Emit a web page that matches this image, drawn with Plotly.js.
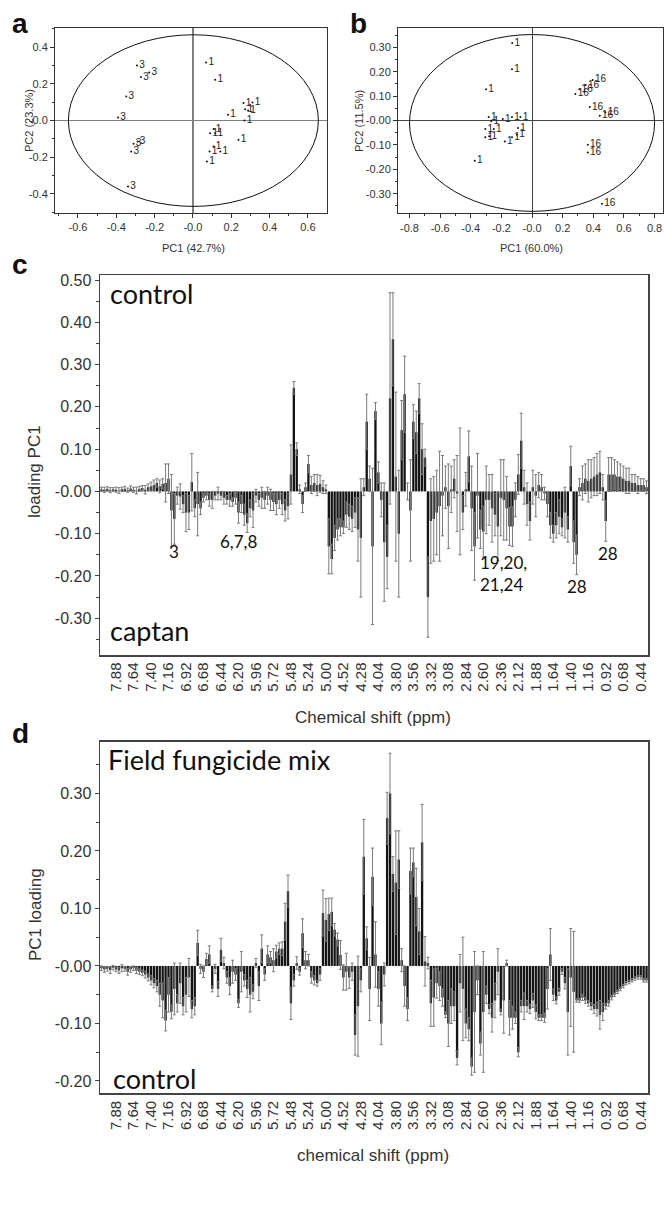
<!DOCTYPE html>
<html><head><meta charset="utf-8">
<script src="https://cdn.plot.ly/plotly-3.0.1.min.js"></script>
<style>body{margin:0;background:#fff}#chart{width:664px;height:1207px}</style>
</head><body><div id="chart"></div>
<script>
const W = 664, H = 1207;

// ---------- Panel a: PCA scores (control "1" vs captan "3") ----------
const aCaptanX = [-0.292,-0.271,-0.228,-0.348,-0.391,-0.310,-0.289,-0.322,-0.339];
const aCaptanY = [0.300,0.237,0.262,0.131,0.016,-0.127,-0.115,-0.169,-0.360];
const aCtrlX = [0.069,0.116,0.264,0.311,0.273,0.288,0.183,0.269,0.108,0.090,0.116,0.238,0.108,0.087,0.143,0.073];
const aCtrlY = [0.316,0.222,0.095,0.098,0.062,0.055,0.031,0.000,-0.047,-0.069,-0.069,-0.105,-0.142,-0.169,-0.169,-0.224];

// ---------- Panel b: PCA scores (control "1" vs field mix "16") ----------
const bCtrlX = [-0.129,-0.131,-0.300,-0.283,-0.266,-0.305,-0.250,-0.305,-0.280,-0.191,-0.131,-0.076,-0.091,-0.098,-0.131,-0.178,-0.374];
const bCtrlY = [0.317,0.210,0.128,0.014,-0.003,-0.035,-0.035,-0.069,-0.065,0.006,0.014,0.014,-0.031,-0.058,-0.069,-0.086,-0.165];
const bMixX = [0.283,0.309,0.350,0.396,0.377,0.479,0.442,0.364,0.364,0.457];
const bMixY = [0.109,0.128,0.145,0.166,0.055,0.034,0.019,-0.099,-0.131,-0.341];

// ---------- Chemical shift bins (ppm) ----------
const shifts = ["8.08","8.04","8.00","7.96","7.92","7.88","7.84","7.80","7.76","7.72","7.68","7.64","7.60","7.56","7.52","7.48","7.44","7.40","7.36","7.32","7.28","7.24","7.20","7.16","7.12","7.08","7.04","7.00","6.96","6.92","6.88","6.84","6.80","6.76","6.72","6.68","6.64","6.60","6.56","6.52","6.48","6.44","6.40","6.36","6.32","6.28","6.24","6.20","6.16","6.12","6.08","6.04","6.00","5.96","5.92","5.88","5.84","5.80","5.76","5.72","5.68","5.64","5.60","5.56","5.52","5.48","5.44","5.40","5.36","5.32","5.28","5.24","5.20","5.16","5.12","5.08","5.04","5.00",
"4.96","4.92","4.64","4.60","4.56",
"4.52","4.48","4.44","4.40","4.36","4.32","4.28","4.24","4.20","4.16","4.12","4.08","4.04","4.00","3.96","3.92","3.88","3.84","3.80","3.76","3.72","3.68","3.64","3.60","3.56","3.52","3.48","3.44","3.40","3.36","3.32","3.28","3.24","3.20","3.16","3.12","3.08","3.04","3.00","2.96","2.92","2.88","2.84","2.80","2.76","2.72","2.68","2.64","2.60","2.56","2.52","2.48","2.44","2.40","2.36","2.32","2.28","2.24","2.20","2.16","2.12","2.08","2.04","2.00","1.96","1.92","1.88","1.84","1.80","1.76","1.72","1.68","1.64","1.60","1.56","1.52","1.48","1.44","1.40","1.36","1.32","1.28","1.24","1.20","1.16","1.12","1.08","1.04","1.00","0.96","0.92","0.88","0.84","0.80","0.76","0.72","0.68","0.64","0.60","0.56","0.52","0.48","0.44","0.40","0.36"];
const shiftTicks = ["7.88","7.64","7.40","7.16","6.92","6.68","6.44","6.20","5.96","5.72","5.48","5.24","5.00","4.52","4.28","4.04","3.80","3.56","3.32","3.08","2.84","2.60","2.36","2.12","1.88","1.64","1.40","1.16","0.92","0.68","0.44"];

// ---------- Panel c: PC1 loadings, control vs captan ----------
const cLoad = [0.005,0.004,0.006,0.003,0.005,0.004,0.002,0.005,0.006,0.003,
0.007,0.004,0.002,0.006,0.008,0.004,0.010,0.012,0.015,0.020,
0.012,0.018,0.020,0.030,-0.045,-0.065,-0.010,-0.012,-0.030,-0.050,
-0.050,0.022,-0.040,-0.030,-0.040,-0.015,-0.010,-0.020,-0.020,-0.010,
-0.005,-0.010,-0.015,-0.020,-0.020,-0.025,-0.015,-0.050,-0.030,-0.055,
-0.075,-0.040,-0.045,-0.010,-0.020,-0.015,-0.020,-0.010,-0.020,-0.025,
-0.030,-0.020,-0.030,-0.045,-0.035,0.040,0.245,0.100,0.005,-0.030,
0.010,0.065,0.015,0.020,0.015,0.018,0.010,0.005,-0.130,-0.160,
-0.110,-0.090,-0.085,-0.085,-0.055,-0.060,-0.065,-0.050,-0.090,-0.110,
0.010,0.165,0.030,-0.130,0.190,0.045,-0.020,-0.120,-0.155,0.220,
0.360,0.035,-0.100,0.145,0.230,0.000,-0.045,0.165,0.140,0.220,
0.100,0.080,-0.250,-0.070,-0.065,-0.050,-0.035,-0.010,0.010,-0.035,
0.005,0.030,-0.005,0.000,-0.050,0.005,0.083,-0.040,-0.130,-0.010,
-0.090,-0.095,-0.020,-0.020,-0.040,-0.055,-0.083,-0.015,-0.020,-0.040,
-0.083,-0.083,-0.020,0.040,0.120,0.010,-0.030,-0.070,0.010,-0.010,
0.015,0.010,-0.005,-0.030,-0.080,-0.100,-0.080,-0.060,-0.085,-0.050,
-0.090,0.060,-0.120,-0.150,0.010,0.020,0.030,0.025,0.030,0.035,
0.040,0.045,0.010,-0.070,0.040,0.040,0.040,0.035,0.035,0.030,
0.025,0.025,0.020,0.020,0.015,0.015,0.015,0.010];
const cErr = [0.005,0.006,0.005,0.006,0.004,0.006,0.007,0.005,0.006,0.005,
0.006,0.006,0.008,0.006,0.006,0.010,0.008,0.010,0.012,0.010,
0.015,0.012,0.045,0.035,0.085,0.060,0.020,0.030,0.020,0.045,
0.040,0.068,0.020,0.075,0.015,0.010,0.010,0.015,0.020,0.010,
0.015,0.010,0.015,0.010,0.015,0.010,0.015,0.025,0.020,0.025,
0.022,0.020,0.040,0.015,0.015,0.025,0.020,0.020,0.025,0.020,
0.025,0.020,0.025,0.025,0.030,0.070,0.015,0.015,0.010,0.020,
0.010,0.020,0.020,0.020,0.025,0.020,0.015,0.010,0.065,0.035,
0.030,0.025,0.020,0.015,0.030,0.030,0.030,0.035,0.075,0.140,
0.020,0.065,0.030,0.185,0.020,0.025,0.040,0.140,0.075,0.250,
0.110,0.200,0.150,0.070,0.090,0.020,0.120,0.040,0.050,0.035,
0.060,0.020,0.095,0.100,0.100,0.100,0.130,0.095,0.050,0.100,
0.055,0.045,0.090,0.150,0.040,0.040,0.060,0.100,0.080,0.100,
0.045,0.060,0.080,0.060,0.080,0.050,0.080,0.090,0.095,0.075,
0.045,0.047,0.040,0.047,0.065,0.040,0.050,0.045,0.040,0.050,
0.030,0.030,0.015,0.030,0.030,0.020,0.030,0.040,0.020,0.060,
0.030,0.047,0.050,0.047,0.020,0.040,0.035,0.050,0.045,0.045,
0.050,0.050,0.030,0.048,0.040,0.040,0.035,0.035,0.030,0.030,
0.030,0.030,0.020,0.020,0.020,0.015,0.015,0.015];

// ---------- Panel d: PC1 loadings, field fungicide mix vs control ----------
const dLoad = [-0.004,-0.006,-0.005,-0.007,-0.003,-0.006,-0.008,-0.004,-0.005,-0.010,
-0.006,-0.004,-0.008,-0.010,-0.012,-0.015,-0.020,-0.025,-0.030,-0.035,
-0.050,-0.060,-0.095,-0.050,-0.080,-0.040,-0.065,-0.030,-0.070,-0.050,
-0.020,-0.075,-0.070,0.040,-0.005,-0.010,0.012,0.020,-0.040,-0.005,
-0.040,0.028,0.005,-0.020,-0.035,-0.010,-0.015,-0.065,-0.010,-0.025,
-0.040,-0.050,-0.045,0.005,-0.035,0.030,-0.015,0.020,0.015,0.010,
0.025,0.030,0.030,0.077,0.130,-0.065,-0.025,0.005,-0.010,0.057,
0.010,0.010,-0.020,-0.025,-0.030,-0.015,0.092,0.080,0.090,0.094,
0.063,0.046,0.019,-0.020,-0.010,-0.020,-0.010,-0.120,-0.070,-0.025,
0.190,0.048,-0.040,0.155,0.020,-0.040,-0.100,-0.015,0.257,0.300,
0.160,0.145,0.185,0.010,-0.035,-0.075,0.165,0.180,0.120,0.060,
0.215,0.008,0.005,-0.065,-0.055,-0.030,-0.035,-0.055,-0.085,-0.100,
-0.070,-0.070,-0.160,-0.030,-0.040,-0.100,-0.110,-0.175,-0.080,-0.025,
-0.135,-0.080,-0.050,-0.075,-0.090,-0.060,-0.010,-0.080,-0.060,0.005,
-0.090,-0.090,-0.090,-0.150,-0.070,-0.070,-0.070,-0.075,-0.060,-0.080,
-0.090,-0.090,-0.090,-0.040,0.020,-0.050,-0.060,-0.045,-0.010,-0.030,
-0.080,-0.020,-0.045,-0.060,-0.060,-0.055,-0.060,-0.065,-0.070,-0.075,
-0.075,-0.085,-0.080,-0.070,-0.065,-0.055,-0.050,-0.045,-0.040,-0.035,
-0.030,-0.028,-0.025,-0.022,-0.020,-0.020,-0.025,-0.025];
const dErr = [0.004,0.005,0.004,0.006,0.004,0.004,0.005,0.006,0.004,0.006,
0.005,0.004,0.005,0.005,0.005,0.006,0.006,0.008,0.008,0.010,
0.020,0.030,0.018,0.030,0.012,0.045,0.015,0.035,0.015,0.030,
0.033,0.015,0.015,0.022,0.008,0.010,0.010,0.015,0.005,0.008,
0.013,0.020,0.010,0.010,0.015,0.020,0.010,0.007,0.035,0.010,
0.015,0.030,0.012,0.008,0.025,0.024,0.010,0.015,0.010,0.020,
0.011,0.010,0.012,0.032,0.028,0.028,0.010,0.011,0.006,0.025,
0.015,0.010,0.010,0.008,0.005,0.010,0.040,0.037,0.028,0.024,
0.011,0.011,0.025,0.022,0.032,0.019,0.015,0.035,0.087,0.020,
0.065,0.020,0.055,0.050,0.057,0.030,0.037,0.020,0.045,0.070,
0.030,0.090,0.050,0.020,0.035,0.020,0.040,0.025,0.050,0.040,
0.066,0.043,0.010,0.040,0.050,0.026,0.025,0.015,0.005,0.040,
0.030,0.025,0.012,0.050,0.090,0.025,0.020,0.015,0.105,0.025,
0.020,0.105,0.015,0.008,0.025,0.030,0.040,0.005,0.057,0.005,
0.030,0.020,0.010,0.008,0.010,0.023,0.010,0.008,0.012,0.012,
0.005,0.005,0.008,0.035,0.045,0.010,0.006,0.006,0.005,0.010,
0.075,0.085,0.105,0.003,0.003,0.005,0.005,0.005,0.006,0.008,
0.012,0.025,0.015,0.005,0.005,0.004,0.003,0.003,0.003,0.003,
0.003,0.003,0.003,0.003,0.003,0.003,0.003,0.003];

// ---------- helpers ----------
const X = p => p / W;
const Y = p => 1 - p / H;
const AR = 'Arial, "Liberation Sans", sans-serif';
const CAL = 'Lato, "Open Sans", sans-serif';
const rep = (s, n) => Array(n).fill(s);

function scoreTrace(xs, ys, lab, xa, ya) {
  return {type:'scatter', mode:'markers+text', x:xs, y:ys, xaxis:xa, yaxis:ya,
    text: rep(lab, xs.length), textposition:'middle right',
    textfont:{family:AR, size:10, color:'#222'},
    marker:{size:2, color:'#111'}, cliponaxis:false, hoverinfo:'skip', showlegend:false};
}
function barTrace(vals, errs, xa, ya) {
  return {type:'bar', x:shifts, y:vals, xaxis:xa, yaxis:ya, width:0.8,
    marker:{color:'#141414', line:{width:0}},
    error_y:{type:'data', array:errs, visible:true, color:'#7a7a7a', thickness:1, width:1.5},
    showlegend:false, hoverinfo:'skip'};
}

const data = [
  scoreTrace(aCaptanX, aCaptanY, '3', 'x', 'y'),
  scoreTrace(aCtrlX, aCtrlY, '1', 'x', 'y'),
  scoreTrace(bCtrlX, bCtrlY, '1', 'x2', 'y2'),
  scoreTrace(bMixX, bMixY, '16', 'x2', 'y2'),
  barTrace(cLoad, cErr, 'x3', 'y3'),
  barTrace(dLoad, dErr, 'x4', 'y4')
];

const frame = {showline:true, mirror:true, linecolor:'#333', linewidth:1, showgrid:false};
const smallTick = {family:AR, size:11, color:'#333'};

const layout = {
  width:W, height:H, margin:{l:0,r:0,t:0,b:0},
  paper_bgcolor:'#fff', plot_bgcolor:'#fff', showlegend:false,
  xaxis: Object.assign({}, frame, {domain:[X(55),X(327)], range:[-0.72,0.70],
    tickmode:'array', tickvals:[-0.6,-0.4,-0.2,0,0.2,0.4,0.6], ticktext:['-0.6','-0.4','-0.2','-0.0','0.2','0.4','0.6'],
    ticks:'outside', ticklen:4, tickcolor:'#333', tickfont:smallTick,
    minor:{tickvals:[-0.7,-0.5,-0.3,-0.1,0.1,0.3,0.5], ticks:'outside', ticklen:2, tickcolor:'#333'},
    zeroline:true, zerolinecolor:'#808080', zerolinewidth:1.5}),
  yaxis: Object.assign({}, frame, {domain:[Y(213),Y(28)], range:[-0.505,0.505],
    tickmode:'array', tickvals:[-0.4,-0.2,0,0.2,0.4], ticktext:['-0.4','-0.2','-0.0','0.2','0.4'],
    ticks:'outside', ticklen:4, tickcolor:'#333', tickfont:smallTick,
    minor:{tickvals:[-0.5,-0.3,-0.1,0.1,0.3,0.5], ticks:'outside', ticklen:2, tickcolor:'#333'},
    zeroline:true, zerolinecolor:'#808080', zerolinewidth:1.5}),
  xaxis2: Object.assign({}, frame, {domain:[X(398),X(663)], range:[-0.875,0.855], anchor:'y2',
    tickmode:'array', tickvals:[-0.8,-0.6,-0.4,-0.2,0,0.2,0.4,0.6,0.8], ticktext:['-0.8','-0.6','-0.4','-0.2','-0.0','0.2','0.4','0.6','0.8'],
    ticks:'outside', ticklen:4, tickcolor:'#333', tickfont:smallTick,
    minor:{tickvals:[-0.7,-0.5,-0.3,-0.1,0.1,0.3,0.5,0.7], ticks:'outside', ticklen:2, tickcolor:'#333'},
    zeroline:true, zerolinecolor:'#444', zerolinewidth:1}),
  yaxis2: Object.assign({}, frame, {domain:[Y(213.3),Y(27.7)], range:[-0.38,0.38], anchor:'x2',
    tickmode:'array', tickvals:[-0.3,-0.2,-0.1,0,0.1,0.2,0.3], ticktext:['-0.30','-0.20','-0.10','-0.00','0.10','0.20','0.30'],
    ticks:'outside', ticklen:4, tickcolor:'#333', tickfont:smallTick,
    minor:{tickvals:[-0.35,-0.25,-0.15,-0.05,0.05,0.15,0.25,0.35], ticks:'outside', ticklen:2, tickcolor:'#333'},
    zeroline:true, zerolinecolor:'#444', zerolinewidth:1}),
  xaxis3: Object.assign({}, frame, {domain:[X(100),X(648)], anchor:'y3', type:'category', range:[-0.5,187.5],
    linecolor:'#444', linewidth:1.5,
    tickmode:'array', tickvals:shiftTicks, ticktext:shiftTicks, tickangle:-90, ticks:'',
    tickfont:{family:AR, size:15, color:'#333'}}),
  yaxis3: Object.assign({}, frame, {domain:[Y(655),Y(275)], anchor:'x3', range:[-0.387,0.512],
    linecolor:'#444', linewidth:1.5, zeroline:false,
    tickmode:'array', tickvals:[0.5,0.4,0.3,0.2,0.1,0,-0.1,-0.2,-0.3], ticktext:['0.50','0.40','0.30','0.20','0.10','-0.00','-0.10','-0.20','-0.30'],
    ticks:'outside', ticklen:4, tickcolor:'#444', tickfont:{family:AR, size:16, color:'#333'},
    minor:{tickvals:[0.45,0.35,0.25,0.15,0.05,-0.05,-0.15,-0.25,-0.35], ticks:'outside', ticklen:3, tickcolor:'#444'}}),
  xaxis4: Object.assign({}, frame, {domain:[X(100),X(648)], anchor:'y4', type:'category', range:[-0.5,187.5],
    linecolor:'#444', linewidth:1.5,
    tickmode:'array', tickvals:shiftTicks, ticktext:shiftTicks, tickangle:-90, ticks:'',
    tickfont:{family:AR, size:15, color:'#333'}}),
  yaxis4: Object.assign({}, frame, {domain:[Y(1093.3),Y(741.7)], anchor:'x4', range:[-0.2215,0.39],
    linecolor:'#444', linewidth:1.5, zeroline:false,
    tickmode:'array', tickvals:[0.3,0.2,0.1,0,-0.1,-0.2], ticktext:['0.30','0.20','0.10','-0.00','-0.10','-0.20'],
    ticks:'outside', ticklen:4, tickcolor:'#444', tickfont:{family:AR, size:16, color:'#333'},
    minor:{tickvals:[0.35,0.25,0.15,0.05,-0.05,-0.15], ticks:'outside', ticklen:3, tickcolor:'#444'}}),
  shapes: [
    {type:'circle', xref:'x', yref:'y', x0:-0.65, x1:0.655, y0:-0.469, y1:0.468, line:{color:'#111', width:1}},
    {type:'circle', xref:'x2', yref:'y2', x0:-0.80, x1:0.80, y0:-0.372, y1:0.352, line:{color:'#111', width:1}}
  ],
  annotations: []
};

function ann(text, x, y, opts) {
  layout.annotations.push(Object.assign({text:text, x:X(x), y:Y(y), xref:'paper', yref:'paper',
    showarrow:false, xanchor:'center', yanchor:'middle'}, opts||{}));
}
// panel letters
const letterFont = {family:AR, size:28, color:'#111', weight:'bold'};
ann('<b>a</b>', 10, 23, {xanchor:'left', font:letterFont});
ann('<b>b</b>', 348, 23, {xanchor:'left', font:letterFont});
ann('<b>c</b>', 10, 265, {xanchor:'left', font:letterFont});
ann('<b>d</b>', 10, 733, {xanchor:'left', font:letterFont});
// axis titles a/b
ann('PC1 (42.7%)', 193, 248, {font:{family:AR, size:11, color:'#333'}});
ann('PC2 (23.3%)', 29, 121, {textangle:-90, font:{family:AR, size:11, color:'#333'}});
ann('PC1 (60.0%)', 531, 248, {font:{family:AR, size:11, color:'#333'}});
ann('PC2 (11.5%)', 359, 121, {textangle:-90, font:{family:AR, size:11, color:'#333'}});
// axis titles c/d
ann('loading PC1', 35, 472, {textangle:-90, font:{family:AR, size:17, color:'#333'}});
ann('Chemical shift (ppm)', 373, 717, {font:{family:AR, size:17, color:'#333'}});
ann('PC1 loading', 35, 915, {textangle:-90, font:{family:AR, size:17, color:'#333'}});
ann('chemical shift (ppm)', 373, 1155, {font:{family:AR, size:17, color:'#333'}});
// in-plot labels c
const big = {family:CAL, size:27, color:'#111'};
const mid = {family:CAL, size:17, color:'#111'};
ann('control', 108, 294, {xanchor:'left', font:big});
ann('captan', 108, 630, {xanchor:'left', font:big});
ann('3', 174, 551, {font:mid});
ann('6,7,8', 238, 541, {font:mid});
ann('19,20,<br>21,24', 478, 573, {xanchor:'left', align:'left', font:mid});
ann('28', 577, 586, {font:mid});
ann('28', 608, 553, {font:mid});
// in-plot labels d
ann('Field fungicide mix', 106, 759, {xanchor:'left', font:big});
ann('control', 111, 1078, {xanchor:'left', font:big});

Plotly.newPlot('chart', data, layout, {staticPlot:true, displayModeBar:false});
</script>
</body></html>
